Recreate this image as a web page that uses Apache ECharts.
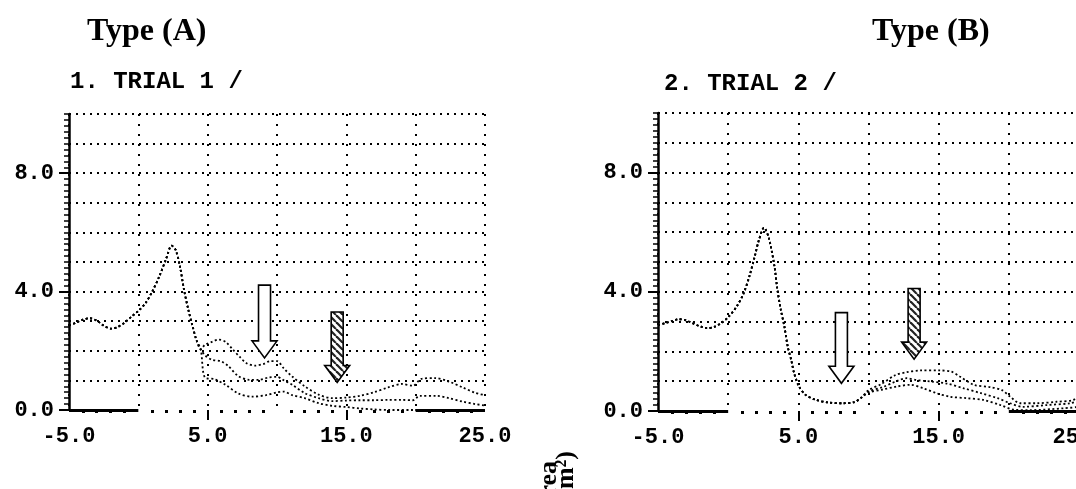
<!DOCTYPE html>
<html>
<head>
<meta charset="utf-8">
<script src="https://cdn.jsdelivr.net/npm/echarts@6/dist/echarts.min.js"></script>
<style>
  html, body { margin: 0; padding: 0; background: #fff; }
  #chart { width: 1076px; height: 489px; }
</style>
</head>
<body>
<div id="chart"></div>
<script>
// titles and tick labels
const typeTitles = ['Type (A)', 'Type (B)'];
const trialTitles = ['1. TRIAL 1 /', '2. TRIAL 2 /'];
const xLabelValues = [-5, 5, 15, 25];
const xMajorTicks = [5, 15];
const yLabelValues = [0, 4, 8];
const solidAxisSpans = [[-5, 0], [20, 25]];

// trial 1: part shared by the three curves, then the three branches
const trial1Shared = [[-5, 2.85], [-4.5, 2.95], [-4, 3.05], [-3.5, 3.1], [-3, 3.02], [-2.5, 2.85], [-2, 2.75], [-1.5, 2.8], [-1, 2.95], [-0.5, 3.15], [0, 3.35], [0.5, 3.6], [1, 4.0], [1.5, 4.5], [2, 5.1], [2.4, 5.55], [2.7, 5.4], [3, 4.85], [3.3, 4.05], [3.6, 3.4], [3.9, 2.85], [4.2, 2.35], [4.5, 2.05]];
const trial1Upper = [[4.8, 2.2], [5.3, 2.3], [5.8, 2.38], [6.3, 2.3], [6.8, 2.05], [7.3, 1.8], [7.8, 1.58], [8.4, 1.5], [9.0, 1.55], [9.5, 1.65], [10, 1.65], [10.5, 1.4], [11.1, 1.13], [12, 0.8], [13, 0.52], [14, 0.4], [15, 0.42], [16, 0.48], [17, 0.6], [18, 0.76], [19, 0.88], [19.8, 0.82], [20.4, 1.05], [21.4, 1.08], [22.4, 0.96], [23.4, 0.76], [24.3, 0.58], [25, 0.5]];
const trial1Middle = [[4.8, 1.85], [5.3, 1.7], [6.0, 1.64], [6.5, 1.48], [7.2, 1.15], [8, 1.02], [8.7, 1.02], [9.4, 1.1], [10, 1.12], [10.5, 1.0], [11.1, 0.85], [12, 0.57], [13, 0.4], [14, 0.3], [15, 0.32], [16, 0.33], [17, 0.33], [18, 0.34], [19, 0.34], [19.8, 0.33], [20.3, 0.48], [21.5, 0.48], [22.4, 0.4], [23.4, 0.28], [24.3, 0.2], [25, 0.15]];
const trial1Lower = [[4.8, 1.1], [5.5, 1.04], [6.3, 0.85], [7.2, 0.56], [8.2, 0.45], [9.2, 0.5], [10, 0.6], [10.5, 0.62], [11.1, 0.5], [12, 0.4], [13, 0.23], [14, 0.14], [15, 0.1], [16, 0.05], [17, 0.02], [18, 0], [20, 0], [25, 0]];

// trial 2
const trial2Shared = [[-5, 2.88], [-4.5, 2.95], [-4, 3.02], [-3.5, 3.08], [-3, 3.04], [-2.5, 2.94], [-2, 2.84], [-1.5, 2.78], [-1, 2.82], [-0.5, 2.95], [0, 3.15], [0.6, 3.5], [1.1, 3.95], [1.5, 4.5], [1.9, 5.2], [2.2, 5.75], [2.55, 6.15], [2.9, 5.8], [3.3, 4.85], [3.5, 4.1], [3.75, 3.4], [4.0, 2.85], [4.25, 2.15], [4.5, 1.7], [4.7, 1.27], [5.05, 0.82], [5.5, 0.55], [6.2, 0.38], [7.2, 0.28], [8.2, 0.26], [9.0, 0.3], [9.5, 0.45]];
const trial2Upper = [[10, 0.7], [10.9, 0.9], [11.9, 1.2], [12.7, 1.3], [13.7, 1.36], [15.1, 1.36], [15.9, 1.32], [16.5, 1.16], [17.5, 0.88], [18.7, 0.8], [19.5, 0.7], [20.1, 0.48], [20.8, 0.26], [22, 0.26], [23.4, 0.31], [24.6, 0.37], [25, 0.55]];
const trial2Middle = [[10, 0.65], [11, 0.8], [12, 1.0], [12.7, 1.1], [13.4, 1.04], [14.4, 0.99], [15.6, 0.92], [16.8, 0.76], [18, 0.6], [19.2, 0.43], [20.1, 0.26], [21, 0.14], [22.7, 0.2], [24.4, 0.26], [25, 0.35]];
const trial2Lower = [[10, 0.62], [11, 0.72], [12, 0.82], [13, 0.88], [13.9, 0.76], [14.9, 0.59], [15.8, 0.48], [17, 0.43], [18.2, 0.37], [19.4, 0.2], [20.4, 0.04], [21.5, 0.03], [23.9, 0.09], [25, 0.14]];

// arrows: [x, yTop, yTip, hatched]
const trial1Arrows = [[9.1, 4.22, 1.76, 0], [14.34, 3.31, 0.93, 1]];
const trial2Arrows = [[8.07, 3.30, 0.93, 0], [13.25, 4.11, 1.74, 1]];

const monoFont = { fontFamily: 'Liberation Mono', fontWeight: 'bold', fontSize: 22, color: '#000' };
const typeFont = { fontFamily: 'Liberation Serif', fontWeight: 'bold', fontSize: 32, color: '#000' };
const noteFont = { fontFamily: 'Liberation Serif', fontWeight: 'bold', fontSize: 26, fill: '#000', align: 'right', verticalAlign: 'middle' };

// diagonal stripes for the hatched arrow
const hatch = (() => {
  const c = document.createElement('canvas');
  c.width = 7; c.height = 7;
  const ctx = c.getContext('2d');
  ctx.fillStyle = '#fff';
  ctx.fillRect(0, 0, 7, 7);
  ctx.strokeStyle = '#222';
  ctx.lineWidth = 2.2;
  for (let k = -7; k <= 7; k += 7) {
    ctx.beginPath();
    ctx.moveTo(k, 0);
    ctx.lineTo(k + 7, 7);
    ctx.stroke();
  }
  return { image: c, repeat: 'repeat' };
})();

const renderArrow = (params, api) => {
  const top = api.coord([api.value(0), api.value(1)]);
  const tip = api.coord([api.value(0), api.value(2)]);
  const cx = tip[0], shaft = 6, head = 12.5, headLen = 17;
  const neck = tip[1] - headLen;
  return {
    type: 'polygon',
    shape: { points: [[cx - shaft, top[1]], [cx + shaft, top[1]], [cx + shaft, neck], [cx + head, neck], [cx, tip[1]], [cx - head, neck], [cx - shaft, neck]] },
    style: { fill: api.value(3) ? hatch : '#fff', stroke: '#000', lineWidth: 1.6 }
  };
};

const mainX = (gridIndex) => ({
  type: 'value', gridIndex, position: 'bottom', min: -5, max: 25, interval: 5,
  axisLine: { show: false, onZero: false },
  axisTick: { show: false },
  axisLabel: { show: false },
  minorTick: { show: true, splitNumber: 5, length: 3, lineStyle: { color: '#000', width: 3 } },
  splitLine: { show: true, lineStyle: { color: '#000', width: 2, type: [2, 8] } }
});
const labelX = (gridIndex) => ({
  type: 'value', gridIndex, position: 'bottom', offset: 0, min: -5, max: 25, interval: 5,
  axisLine: { show: false, onZero: false },
  axisTick: { show: true, customValues: xMajorTicks, length: 10, lineStyle: { color: '#000', width: 2 } },
  axisLabel: { customValues: xLabelValues, formatter: v => v.toFixed(1), margin: 15, ...monoFont },
  splitLine: { show: false }
});
const mainY = (gridIndex) => ({
  type: 'value', gridIndex, position: 'left', min: 0, max: 10, interval: 1,
  axisLine: { show: true, onZero: false, lineStyle: { color: '#000', width: 2.5 } },
  axisTick: { show: true, length: 5, lineStyle: { color: '#000', width: 1.5 } },
  minorTick: { show: true, splitNumber: 5, length: 5, lineStyle: { color: '#000', width: 1.5 } },
  axisLabel: { show: false },
  splitLine: { show: true, showMinLine: false, lineStyle: { color: '#000', width: 2, type: [2, 5] } }
});
const labelY = (gridIndex) => ({
  type: 'value', gridIndex, position: 'left', offset: 0, min: 0, max: 10, interval: 1,
  axisLine: { show: false, onZero: false },
  axisTick: { show: true, customValues: yLabelValues, length: 10, lineStyle: { color: '#000', width: 2 } },
  axisLabel: { customValues: yLabelValues, formatter: v => v.toFixed(1), margin: 15, ...monoFont },
  splitLine: { show: false }
});

const curve = (axisIndex, data, withAxis) => ({
  type: 'line', xAxisIndex: axisIndex, yAxisIndex: axisIndex, data,
  symbol: 'none', smooth: 0.3, silent: true,
  lineStyle: { color: '#000', width: 1.8, type: [2, 2.5] },
  markLine: withAxis ? {
    symbol: 'none', silent: true, label: { show: false },
    lineStyle: { color: '#000', width: 3, type: 'solid' },
    data: solidAxisSpans.map(s => [{ coord: [s[0], 0] }, { coord: [s[1], 0] }])
  } : undefined
});
const arrows = (axisIndex, data) => ({
  type: 'custom', xAxisIndex: axisIndex, yAxisIndex: axisIndex, data,
  encode: { x: 0, y: [1, 2] }, renderItem: renderArrow, z: 10, silent: true
});

const chart = echarts.init(document.getElementById('chart'), null, { renderer: 'canvas' });
chart.setOption({
  animation: false,
  backgroundColor: '#fff',
  title: [
    { text: typeTitles[0], left: 87, top: 16, padding: 0, textStyle: typeFont },
    { text: typeTitles[1], left: 872, top: 16, padding: 0, textStyle: typeFont },
    { text: trialTitles[0], left: 70, top: 70, padding: 0, textStyle: { ...monoFont, fontSize: 24 } },
    { text: trialTitles[1], left: 664, top: 72, padding: 0, textStyle: { ...monoFont, fontSize: 24 } }
  ],
  grid: [
    { left: 69, top: 114, width: 416, height: 296, outerBoundsMode: 'none' },
    { left: 658, top: 113, width: 421, height: 298, outerBoundsMode: 'none' }
  ],
  xAxis: [mainX(0), labelX(0), mainX(1), labelX(1)],
  yAxis: [mainY(0), labelY(0), mainY(1), labelY(1)],
  series: [
    curve(0, trial1Shared.concat(trial1Upper), true),
    curve(0, trial1Shared.concat(trial1Middle), false),
    curve(0, trial1Shared.concat(trial1Lower), false),
    arrows(0, trial1Arrows),
    curve(2, trial2Shared.concat(trial2Upper), true),
    curve(2, trial2Shared.concat(trial2Middle), false),
    curve(2, trial2Shared.concat(trial2Lower), false),
    arrows(2, trial2Arrows)
  ],
  graphic: [
    { type: 'text', x: 549, y: 461, rotation: Math.PI / 2, style: { text: 'Area', ...noteFont } },
    { type: 'text', x: 566, y: 451, rotation: Math.PI / 2, style: { text: '(mm²)', ...noteFont } }
  ]
});
</script>
</body>
</html>
